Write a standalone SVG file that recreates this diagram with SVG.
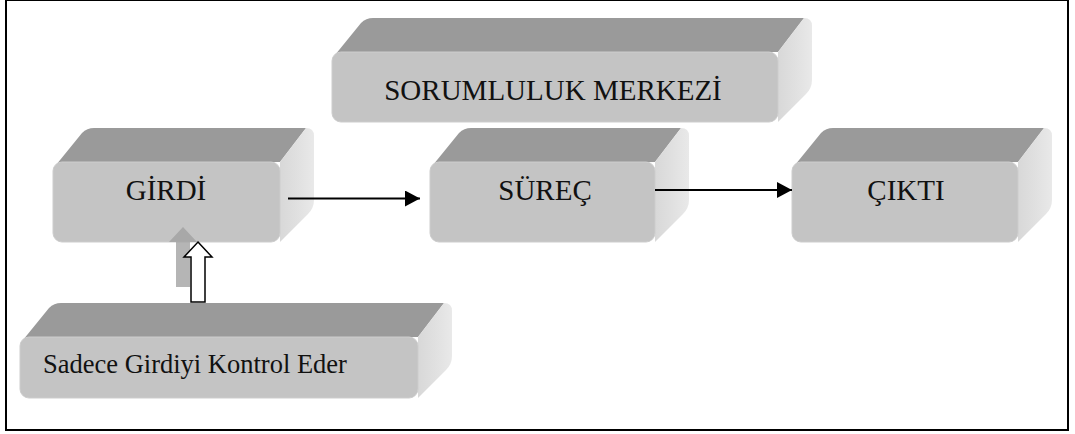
<svg xmlns="http://www.w3.org/2000/svg" width="1075" height="434" viewBox="0 0 1075 434">
  <style>
    .top { fill: #9a9a9a; }
    .side { fill: url(#sideShade); }
    .front { fill: #c4c4c4; stroke: #cdcdcd; stroke-width: 1; }
    .flow { stroke: #000; stroke-width: 2; fill: none; marker-end: url(#head); }
  </style>
  <defs>
    <linearGradient id="sideShade" x1="0" y1="0" x2="1" y2="0">
      <stop offset="0" stop-color="#d8d8d8"/>
      <stop offset="0.5" stop-color="#e0e0e0"/>
      <stop offset="1" stop-color="#e9e9e9"/>
    </linearGradient>
    <marker id="head" markerUnits="userSpaceOnUse" markerWidth="15" markerHeight="16" viewBox="0 0 15 16" refX="15" refY="8" orient="auto">
      <path d="M0,0 L15,8 L0,16 Z" fill="#000"/>
    </marker>
  </defs>

  <!-- frame -->
  <rect x="6" y="0" width="1062" height="430" fill="#fff" stroke="#000" stroke-width="2"/>

  <g font-family="Liberation Serif, Times New Roman, serif" fill="#111">
    <!-- responsibility centre -->
    <g id="node-sorumluluk">
      <path class="top" d="M335,55 L361,23 Q366,18 373,18 L804,18 L778,52 Z"/>
      <path class="side" d="M778,52 L804,18 Q812,18 812,26 L812,80 Q812,88 806,94 L778,122 Z"/>
      <rect class="front" x="332" y="52" width="446" height="70" rx="9"/>
      <text x="553" y="100" font-size="29" text-anchor="middle">SORUMLULUK MERKEZİ</text>
    </g>

    <!-- input -->
    <g id="node-girdi">
      <path class="top" d="M56,165 L82,133 Q87,128 94,128 L306,128 L280,162 Z"/>
      <path class="side" d="M280,162 L306,128 Q314,128 314,136 L314,200 Q314,208 308,214 L280,242 Z"/>
      <rect class="front" x="53" y="162" width="227" height="80" rx="9"/>
      <text x="166" y="200" font-size="29" text-anchor="middle">GİRDİ</text>
    </g>

    <!-- process -->
    <g id="node-surec">
      <path class="top" d="M433,165 L459,133 Q464,128 471,128 L681,128 L655,162 Z"/>
      <path class="side" d="M655,162 L681,128 Q689,128 689,136 L689,200 Q689,208 683,214 L655,242 Z"/>
      <rect class="front" x="430" y="162" width="225" height="80" rx="9"/>
      <text x="545" y="200" font-size="29" text-anchor="middle">SÜREÇ</text>
    </g>

    <!-- output -->
    <g id="node-cikti">
      <path class="top" d="M795,165 L821,133 Q826,128 833,128 L1044,128 L1018,162 Z"/>
      <path class="side" d="M1018,162 L1044,128 Q1052,128 1052,136 L1052,200 Q1052,208 1046,214 L1018,242 Z"/>
      <rect class="front" x="792" y="162" width="226" height="80" rx="9"/>
      <text x="906" y="200" font-size="29" text-anchor="middle">ÇIKTI</text>
    </g>

    <!-- control note -->
    <g id="node-kontrol">
      <path class="top" d="M23,340 L49,308 Q54,303 61,303 L444,303 L418,337 Z"/>
      <path class="side" d="M418,337 L444,303 Q452,303 452,311 L452,356 Q452,364 446,370 L418,398 Z"/>
      <rect class="front" x="20" y="337" width="398" height="61" rx="9"/>
      <text x="43" y="373" font-size="26.5">Sadece Girdiyi Kontrol Eder</text>
    </g>
  </g>

  <!-- connectors -->
  <g id="connectors">
    <path class="flow" d="M288,198.5 L420,198.5"/>
    <path class="flow" d="M655,190 L792,190"/>
    <!-- block arrow with its drop shadow -->
    <polygon points="183,227 197,242 190,242 190,287 176,287 176,242 169,242" fill="#a0a0a0" fill-opacity="0.78"/>
    <polygon points="198,242 212,257 205,257 205,302 191,302 191,257 184,257" fill="#fff" stroke="#000" stroke-width="1.5" stroke-linejoin="miter"/>
  </g>
</svg>
